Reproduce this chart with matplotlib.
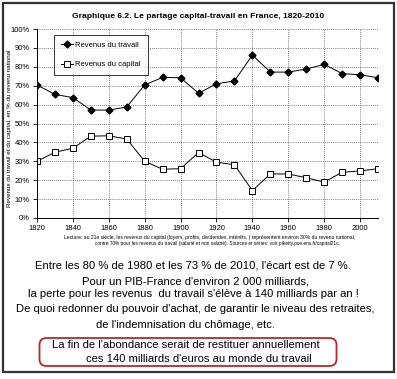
import matplotlib.pyplot as plt
from matplotlib.patches import Rectangle, FancyBboxPatch
from matplotlib.ticker import FuncFormatter

plt.rcParams['font.family'] = ['Liberation Sans', 'DejaVu Sans']

years = [1820, 1830, 1840, 1850, 1860, 1870, 1880, 1890, 1900, 1910,
         1920, 1930, 1940, 1950, 1960, 1970, 1980, 1990, 2000, 2010]
travail = [70.4, 65.4, 63.7, 57.1, 57.1, 58.7, 70.4, 74.4, 74.2, 66.0,
           71.0, 72.5, 86.2, 77.2, 77.2, 78.8, 81.3, 76.4, 75.8, 74.2]
capital = [30.0, 34.8, 36.9, 43.3, 43.5, 41.8, 30.0, 25.8, 26.1, 34.6,
           29.5, 28.2, 14.5, 23.3, 23.3, 21.3, 19.0, 24.2, 24.9, 26.1]

W, H = 397, 379
fig = plt.figure(figsize=(W / 100, H / 100), dpi=100)
fig.patch.set_facecolor('white')

# outer frame
fig.add_artist(Rectangle((3 / W, 1 - 372 / H), 391 / W, 369 / H,
                         transform=fig.transFigure, fill=False,
                         edgecolor='#333333', lw=1.6))

ax = fig.add_axes([37 / W, 1 - 218 / H, 341 / W, 189 / H])
ax.plot(years, travail, '-', color='black', lw=0.7, marker='D', ms=3.5,
        mfc='black', mec='black', label='Revenus du travail')
ax.plot(years, capital, '-', color='black', lw=0.7, marker='s', ms=4,
        mfc='white', mec='black', mew=0.7, label='Revenus du capital')

ax.set_xlim(1820, 2010)
ax.set_ylim(0, 100)
ax.set_xticks(range(1820, 2001, 20))
ax.set_yticks(range(0, 101, 10))
ax.yaxis.set_major_formatter(FuncFormatter(lambda v, p: '%d%%' % v))
ax.tick_params(labelsize=5.5, length=3, width=0.6, pad=2)
ax.grid(True, linestyle=(0, (1, 1.5)), color='#555555', lw=0.6)
ax.axvline(2010, linestyle=(0, (1, 1.5)), color='#555555', lw=0.6)
for s in ['top', 'right']:
    ax.spines[s].set_visible(False)
for s in ['left', 'bottom']:
    ax.spines[s].set_linewidth(0.7)

fig.text(10 / W, 1 - 128 / H,
         'Revenus du travail et du capital, en % du revenu national',
         rotation=90, ha='center', va='center', fontsize=4.5)

leg = ax.legend(loc='upper left', bbox_to_anchor=(0.05, 0.97), fontsize=5.5,
                frameon=True, fancybox=False, edgecolor='black',
                handlelength=1.6, handletextpad=0.3, labelspacing=1.6,
                borderpad=0.9, borderaxespad=0)
leg.get_frame().set_linewidth(0.7)

fig.text(198 / W, 1 - 17 / H, 'Graphique 6.2. Le partage capital-travail en France, 1820-2010',
         ha='center', va='center', fontsize=6.1, fontweight='bold')

fig.text(210 / W, 1 - 237 / H,
         'Lecture: au 21e siècle, les revenus du capital (loyers, profits, dividendes, intérêts, ) '
         'représentent environ 30% du revenu national,',
         ha='center', va='center', fontsize=3.6)
fig.text(217 / W, 1 - 243.5 / H,
         'contre 70% pour les revenus du travail (salarié et non salarié). '
         'Sources et séries: voir piketty.pse.ens.fr/capital21c.',
         ha='center', va='center', fontsize=3.4)

lines = [
    (266, 193, "Entre les 80 % de 1980 et les 73 % de 2010, l'écart est de 7 %."),
    (282, 196, "Pour un PIB-France d'environ 2 000 milliards,"),
    (294, 193, "la perte pour les revenus  du travail s'élève à 140 milliards par an !"),
    (309.5, 195, "De quoi redonner du pouvoir d'achat, de garantir le niveau des retraites,"),
    (325.5, 186, "de l'indemnisation du chômage, etc."),
]
for y, x, t in lines:
    fig.text(x / W, 1 - y / H, t, ha='center', va='center', fontsize=8.1)

fig.add_artist(FancyBboxPatch((39.5 / W, 1 - 366 / H), 297 / W, 28 / H,
                              boxstyle='round,pad=0,rounding_size=0.018',
                              transform=fig.transFigure, fill=False,
                              edgecolor='#c0242b', lw=1.3))
fig.text(185.5 / W, 1 - 345.5 / H, "La fin de l'abondance serait de restituer annuellement",
         ha='center', va='center', fontsize=8.1)
fig.text(198.5 / W, 1 - 358.5 / H, "ces 140 milliards d'euros au monde du travail",
         ha='center', va='center', fontsize=8.1)

fig.savefig('out.png', dpi=100)
